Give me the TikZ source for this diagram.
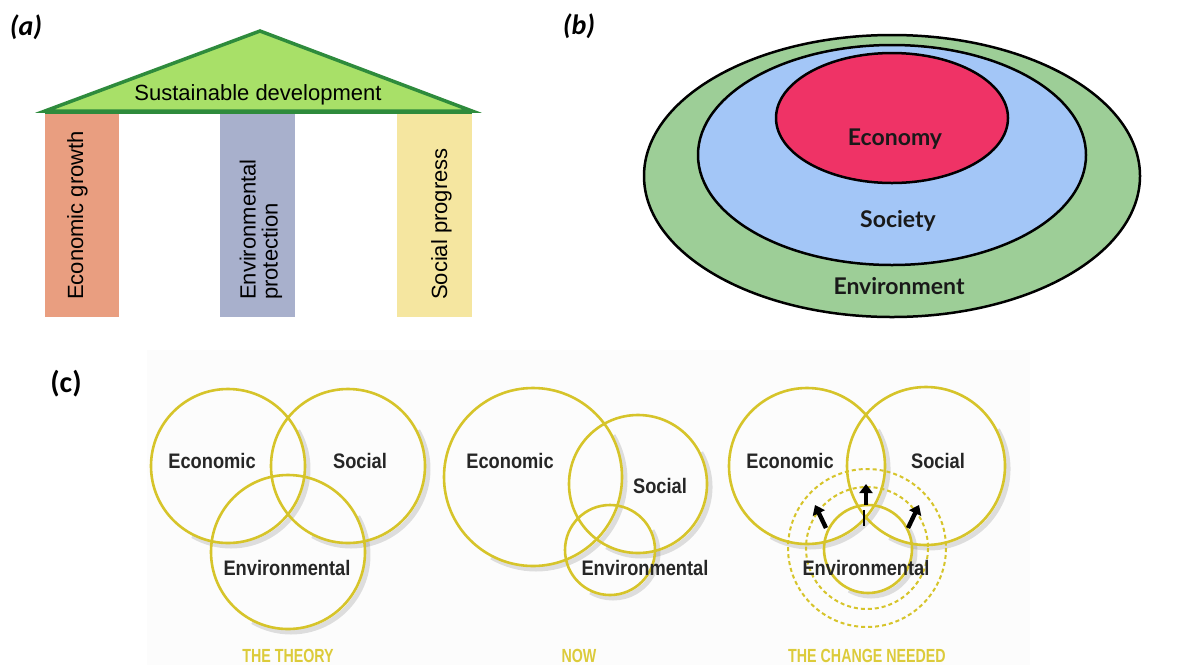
\documentclass[tikz,border=0pt]{standalone}
\usepackage{fontspec}
\setmainfont{Liberation Sans}
\newfontfamily\lblfont{Carlito}
\newfontfamily\latofont{Lato}
\newfontfamily\vennfont[FakeStretch=0.87]{Liberation Sans}
\newfontfamily\capfont[FakeStretch=0.75]{Liberation Sans}
\newfontfamily\colfont{Liberation Sans}
\usetikzlibrary{arrows.meta}
\definecolor{roofgreen}{HTML}{A8E068}
\definecolor{roofline}{HTML}{2E8B3C}
\definecolor{salmon}{HTML}{E99E80}
\definecolor{slate}{HTML}{A8B0CC}
\definecolor{straw}{HTML}{F5E6A0}
\definecolor{envgreen}{HTML}{9DCE97}
\definecolor{socblue}{HTML}{A3C6F7}
\definecolor{ecored}{HTML}{EF3366}
\definecolor{venn}{HTML}{D6C42A}
\definecolor{capyellow}{HTML}{DCCB3A}
\definecolor{pbg}{HTML}{FCFCFC}
\tikzset{
  lbl/.style={font=\lblfont\bfseries\itshape\fontsize{28}{32}\selectfont, anchor=base, inner sep=0},
  lblc/.style={font=\lblfont\bfseries\fontsize{30}{34}\selectfont, anchor=base, inner sep=0},
  coltext/.style={font=\colfont\fontsize{22}{22}\selectfont, rotate=90, inner sep=0, align=left},
  roof/.style={fill=roofgreen, draw=roofline, line width=3.5, line join=miter},
  ring/.style={draw=black, line width=2.5},
  ebtext/.style={font=\latofont\bfseries\fontsize{23}{26}\selectfont, text=black!90, anchor=base, inner sep=0},
  vc/.style={draw=venn, line width=2.6},
  vdash/.style={draw=venn, line width=2, dash pattern=on 4pt off 3pt},
  vshadow/.style={draw=black, opacity=0.12, line width=5},
  vtext/.style={font=\vennfont\bfseries\fontsize{21}{22}\selectfont, text=black!85, anchor=base, inner sep=0},
  captext/.style={font=\capfont\bfseries\fontsize{19}{20}\selectfont, text=capyellow, anchor=base, inner sep=0},
  bigarrow/.style={line width=4.4, -{Triangle[length=9pt,width=13pt]}}
}
\newcommand\vshad[3]{\draw[vshadow, shift={(3,3)}] (#1) ++(-30:#2) arc[start angle=-30, end angle=#3, radius=#2];}
\begin{document}
\begin{tikzpicture}[x=1pt,y=-1pt]
\useasboundingbox (0,0) rectangle (1193,665);
\fill[white] (0,0) rectangle (1193,665);

% ---------- (a) ----------
\node[lbl] (la) at (26,35) {(a)};
\fill[salmon] (45,114) rectangle (119,317);
\fill[slate] (220,114) rectangle (295,317);
\fill[straw] (397,114) rectangle (472,317);
\filldraw[roof] (45,111) -- (260,31) -- (472,111) -- cycle;
\draw[roofline, line width=4.5] (45,112) -- (472,112);
\node[font=\colfont\fontsize{22}{22}\selectfont, anchor=base, inner sep=0] (sd) at (258,100) {Sustainable development};
\node[coltext, anchor=base west] (eg) at (83,300) {Economic growth};
\node[coltext, anchor=west, align=left] (ep) at (261,300) {Environmental\\protection};
\node[coltext, anchor=base west] (sp) at (447,300) {Social progress};

% ---------- (b) ----------
\node[lbl] (lb) at (579,34) {(b)};
\filldraw[ring, fill=envgreen] (892,176) ellipse [x radius=248, y radius=141];
\filldraw[ring, fill=socblue] (892,155) ellipse [x radius=194, y radius=110];
\filldraw[ring, fill=ecored] (892,118) ellipse [x radius=116, y radius=65];
\node[ebtext] (eco) at (895,145) {Economy};
\node[ebtext] (soc) at (898,227) {Society};
\node[ebtext] (env) at (899,294) {Environment};

% ---------- (c) ----------
\node[lblc] (lc) at (66,392) {(c)};
\fill[pbg] (147,350) rectangle (1030,665);

% shadows
\vshad{228,466}{77}{120}
\vshad{348,466}{77}{120}
\vshad{288,552}{77}{120}
\vshad{533,477}{89}{120}
\vshad{638,484}{69}{120}
\vshad{610,550}{45}{120}
\vshad{807,466}{78}{120}
\vshad{926,466}{79}{120}
\vshad{868,549}{44}{120}

% THE THEORY
\draw[vc] (228,466) circle[radius=77];
\draw[vc] (348,466) circle[radius=77];
\draw[vc] (288,552) circle[radius=77];
\node[vtext] (t1) at (212,468) {Economic};
\node[vtext] (t2) at (360,468) {Social};
\node[vtext] (t3) at (287,575) {Environmental};
\node[captext] (t4) at (288,662) {THE THEORY};

% NOW
\draw[vc] (533,477) circle[radius=89];
\draw[vc] (638,484) circle[radius=69];
\draw[vc] (610,550) circle[radius=45];
\node[vtext] (n1) at (510,468) {Economic};
\node[vtext] (n2) at (660,493) {Social};
\node[vtext] (n3) at (645,575) {Environmental};
\node[captext] (n4) at (579,662) {NOW};

% THE CHANGE NEEDED
\draw[vdash] (867,548) circle[radius=79];
\draw[vdash] (867,548) circle[radius=61];
\draw[vc] (807,466) circle[radius=78];
\draw[vc] (926,466) circle[radius=79];
\draw[vc] (868,549) circle[radius=44];
\coordinate (amS) at (866,505);
\coordinate (amT) at (866,484);
\coordinate (alS) at (826,528);
\coordinate (alT) at (815,505);
\coordinate (arS) at (908,528);
\coordinate (arT) at (919,505);
\coordinate (bar1) at (864,510);
\coordinate (bar2) at (864,526);
\draw[bigarrow] (amS) -- (amT);
\draw[bigarrow] (alS) -- (alT);
\draw[bigarrow] (arS) -- (arT);
\draw[line width=2.2] (bar1) -- (bar2);
\node[vtext] (c1) at (790,468) {Economic};
\node[vtext] (c2) at (938,468) {Social};
\node[vtext] (c3) at (866,575) {Environmental};
\node[captext] (c4) at (867,662) {THE CHANGE NEEDED};
\end{tikzpicture}
\end{document}
